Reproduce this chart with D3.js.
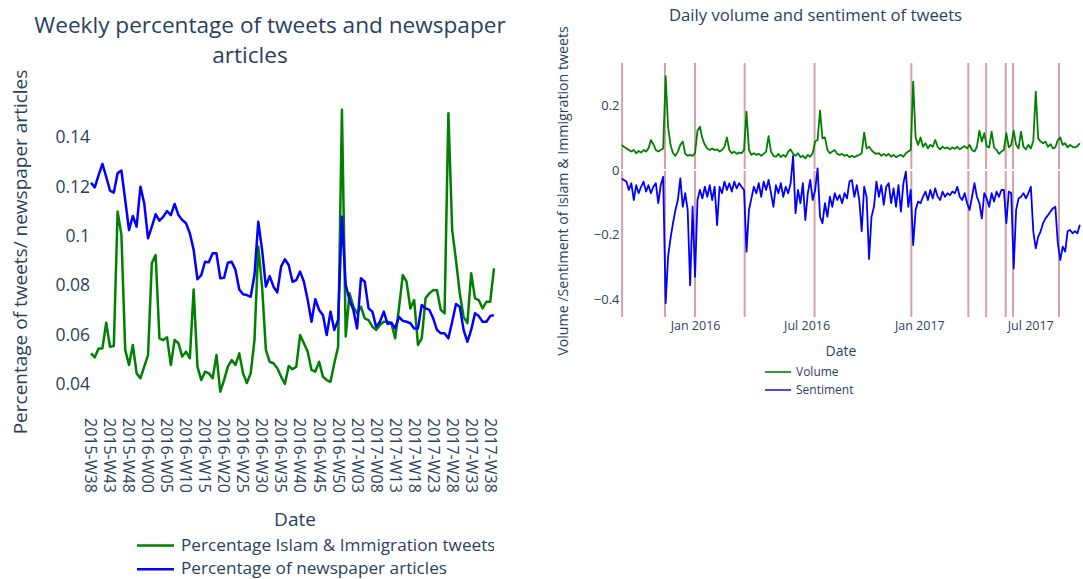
<!DOCTYPE html>
<html><head><meta charset="utf-8">
<script src="https://cdn.jsdelivr.net/npm/d3@7"></script>
<style>body{margin:0;background:#fff;} svg{font-family:"Open Sans",sans-serif;display:block;}</style>
</head><body>
<svg id="c" width="1083" height="579"></svg>
<script>
// ---------- LEFT CHART DATA ----------
function pad(n){return (n<10?"0":"")+n;}
const weekCats = [];
for(let w=38;w<=52;w++) weekCats.push("2015-W"+pad(w));
for(let w=0;w<=52;w++) weekCats.push("2016-W"+pad(w));
for(let w=1;w<=39;w++) weekCats.push("2017-W"+pad(w));
const weekTickLabels = weekCats.filter((c,i)=>i%5===0);
const leftYTicks = [0.04,0.06,0.08,0.1,0.12,0.14];

const tweetPct = [
0.0524,0.0508,0.0544,0.0544,0.0648,0.0551,0.0554,0.1098,0.1003,0.0538,
0.0477,0.0558,0.0443,0.0423,0.047,0.0517,0.0889,0.0922,0.0585,0.0578,
0.0589,0.0477,0.0578,0.0565,0.0511,0.0531,0.0504,0.0783,0.047,0.0416,
0.045,0.0443,0.0423,0.0517,0.0369,0.0416,0.047,0.0497,0.0477,0.0524,
0.0443,0.0404,0.0443,0.0578,0.0956,0.0794,0.0538,0.049,0.0484,0.0464,
0.043,0.040,0.0473,0.046,0.047,
0.0598,0.0565,0.0531,0.0457,0.045,0.049,0.043,0.0416,0.0409,0.0484,
0.0551,0.151,0.0592,0.0767,0.0713,0.0686,0.0713,0.0666,0.0659,0.0632,
0.0619,0.0639,0.0652,0.0652,0.0646,0.0585,0.0706,0.0841,0.0814,0.0706,
0.074,0.0558,0.0585,0.0747,0.0767,0.078,0.078,0.07,0.0686,0.1496,
0.1023,0.0902,0.0767,0.0672,0.0646,0.0848,0.0747,0.074,0.0706,0.0733,
0.0733,0.0868];
const newsPct = [
0.1215,0.1196,0.1246,0.1291,0.1239,0.1183,0.1175,0.1253,0.1264,0.1145,
0.1023,0.108,0.1037,0.1199,0.1132,0.099,0.1037,0.1087,0.1061,0.1077,
0.11,0.1084,0.1129,0.1084,0.1064,0.1051,0.101,0.0943,0.0824,0.0841,
0.0895,0.0893,0.0929,0.0929,0.0828,0.083,0.0891,0.0895,0.0862,0.0783,
0.0763,0.076,0.0753,0.0841,0.1057,0.0943,0.0794,0.0837,0.0794,0.0771,
0.0875,0.0905,0.0882,0.0814,0.0821,
0.0855,0.0814,0.074,0.0652,0.0743,0.07,0.0679,0.0598,0.0693,0.0619,
0.0659,0.1077,0.0801,0.074,0.07,0.0625,0.0828,0.0814,0.0706,0.0693,
0.0632,0.0652,0.0693,0.0643,0.0648,0.0625,0.0672,0.0656,0.0652,0.0646,
0.0625,0.0625,0.072,0.0706,0.07,0.0666,0.0619,0.0605,0.0605,0.0585,
0.0652,0.0724,0.0713,0.0619,0.0571,0.0619,0.0686,0.0675,0.0652,0.0652,
0.0675,0.0679];
const leftSeriesNames = ["Percentage Islam & Immigration tweets","Percentage of newspaper articles"];

// ---------- RIGHT CHART DATA ----------
const dailyStart = "2015-09-03";   // first day; one value every 4 days
const dailyStepDays = 4;
const volume = [
0.0775,0.072,0.067,0.062,0.057,0.062,0.052,0.059,0.054,0.062,
0.057,0.067,0.093,0.080,0.062,0.057,0.062,0.067,0.291,0.134,
0.078,0.052,0.044,0.057,0.078,0.088,0.050,0.044,0.047,0.044,
0.052,0.122,0.134,0.098,0.078,0.067,0.062,0.067,0.062,0.064,
0.057,0.062,0.072,0.101,0.062,0.052,0.057,0.050,0.054,0.052,
0.062,0.181,0.062,0.047,0.052,0.047,0.050,0.044,0.050,0.057,
0.105,0.057,0.044,0.041,0.050,0.040,0.047,0.041,0.057,0.064,
0.050,0.044,0.052,0.040,0.044,0.036,0.047,0.041,0.052,0.088,
0.093,0.184,0.098,0.101,0.062,0.052,0.057,0.062,0.050,0.047,
0.050,0.044,0.047,0.040,
0.044,0.040,0.044,0.047,0.052,0.116,
0.067,0.072,0.062,0.054,0.050,0.052,0.044,0.050,0.044,0.050,
0.041,0.047,0.040,0.044,0.047,0.041,0.052,0.057,0.062,0.274,
0.101,0.078,0.101,0.072,0.083,0.067,0.078,0.072,0.093,0.072,
0.064,0.072,0.067,0.070,0.064,0.070,0.066,0.072,0.064,0.070,
0.074,0.067,0.078,0.062,0.057,0.072,0.122,0.088,0.114,0.074,
0.070,0.119,0.070,0.062,0.050,0.057,0.062,0.114,0.070,0.078,
0.122,0.078,0.067,0.119,0.072,0.064,0.078,0.067,0.090,0.243,
0.098,0.088,0.083,0.088,0.072,0.080,0.067,0.070,0.093,0.101,
0.078,0.083,0.070,0.078,0.072,0.070,0.074,0.083];
const sentiment = [
-0.026,-0.031,-0.036,-0.062,-0.041,-0.093,-0.047,-0.072,-0.052,-0.036,
-0.067,-0.047,-0.072,-0.052,-0.041,-0.103,-0.047,-0.021,-0.413,-0.269,
-0.212,-0.165,-0.124,-0.093,-0.026,-0.114,-0.072,-0.124,-0.357,-0.114,
-0.331,-0.093,-0.062,-0.088,-0.052,-0.083,-0.047,-0.093,-0.052,-0.171,
-0.052,-0.072,-0.036,-0.062,-0.041,-0.067,-0.036,-0.057,-0.041,-0.052,
-0.062,-0.253,-0.124,-0.088,-0.052,-0.072,-0.041,-0.083,-0.036,-0.062,
-0.031,-0.072,-0.114,-0.047,-0.072,-0.041,-0.083,-0.052,-0.072,-0.041,
0.044,-0.134,-0.062,-0.103,-0.041,-0.155,-0.072,-0.031,-0.093,-0.062,
0.005,-0.145,-0.165,-0.103,-0.145,-0.083,-0.114,-0.072,-0.093,-0.078,
-0.103,-0.072,-0.088,-0.036,
-0.031,-0.083,-0.047,-0.093,-0.190,-0.052,
-0.083,-0.276,-0.145,-0.114,-0.036,-0.083,-0.047,-0.108,-0.052,-0.041,
-0.103,-0.057,-0.114,-0.047,-0.129,-0.041,-0.005,-0.114,-0.062,-0.233,
-0.124,-0.098,-0.103,-0.083,-0.067,-0.093,-0.062,-0.088,-0.057,-0.083,
-0.093,-0.067,-0.083,-0.072,-0.078,-0.067,-0.072,-0.052,-0.083,-0.093,
-0.072,-0.103,-0.124,-0.083,-0.041,-0.083,-0.103,-0.150,-0.072,-0.088,
-0.114,-0.072,-0.098,-0.067,-0.083,-0.062,-0.062,-0.165,-0.067,-0.072,
-0.305,-0.124,-0.088,-0.083,-0.072,-0.088,-0.072,-0.052,-0.190,-0.243,
-0.207,-0.190,-0.165,-0.150,-0.140,-0.129,-0.119,-0.114,-0.227,-0.279,
-0.238,-0.253,-0.190,-0.186,-0.196,-0.190,-0.196,-0.170];
const eventDates = ["2015-09-04","2015-11-13","2016-01-01","2016-03-22","2016-07-14",
  "2016-12-19","2017-03-22","2017-04-20","2017-05-22","2017-06-03","2017-08-17"];
const rightXTicks = ["2016-01-01","2016-07-01","2017-01-01","2017-07-01"];
const rightYTicks = [-0.4,-0.2,0,0.2];
const rightSeriesNames = ["Volume","Sentiment"];

// ---------- DRAW ----------
const TXT = "#2a3f5f", GREEN = "#008000", BLUE = "#0000ff";
const svg = d3.select("#c");

// LEFT
const xL = d3.scalePoint().domain(weekCats).range([91, 494]);
const yL = d3.scaleLinear().domain([0.04, 0.14]).range([384, 137]);
const gL = svg.append("g");

gL.append("text").attr("x",270).attr("y",33).attr("text-anchor","middle")
  .attr("font-size",22.6).attr("fill",TXT).text("Weekly percentage of tweets and newspaper");
gL.append("text").attr("x",250).attr("y",63).attr("text-anchor","middle")
  .attr("font-size",22.6).attr("fill",TXT).text("articles");

const yAxL = gL.append("g").attr("transform","translate(92,0)")
  .call(d3.axisLeft(yL).tickValues(leftYTicks).tickSize(0).tickPadding(2)
    .tickFormat(d=>String(+d.toFixed(2))));
yAxL.select(".domain").remove();
yAxL.selectAll("text").attr("font-size",17.5).attr("fill",TXT).attr("font-family","Open Sans");

gL.selectAll("text.xt").data(weekTickLabels).join("text").attr("class","xt")
  .attr("transform",d=>`translate(${xL(d)},418) rotate(90)`)
  .attr("dy","0.35em").attr("font-size",16).attr("fill",TXT).text(d=>d);

gL.append("text").attr("transform","translate(27,252) rotate(-90)").attr("text-anchor","middle")
  .attr("font-size",19).attr("fill",TXT).text("Percentage of tweets/ newspaper articles");
gL.append("text").attr("x",295).attr("y",526).attr("text-anchor","middle")
  .attr("font-size",19).attr("fill",TXT).text("Date");

const lineL = d3.line().x((d,i)=>xL(weekCats[i])).y(d=>yL(d));
gL.append("path").datum(tweetPct).attr("d",lineL).attr("fill","none")
  .attr("stroke",GREEN).attr("stroke-width",2.5).attr("stroke-linejoin","round");
gL.append("path").datum(newsPct).attr("d",lineL).attr("fill","none")
  .attr("stroke",BLUE).attr("stroke-width",2.5).attr("stroke-linejoin","round");

svg.append("clipPath").attr("id","legclip").append("rect").attr("x",0).attr("y",520).attr("width",494).attr("height",59);
const legL = gL.append("g").attr("clip-path","url(#legclip)");
[[GREEN,544.5],[BLUE,568.3]].forEach(([c,y],i)=>{
  legL.append("line").attr("x1",137).attr("x2",174).attr("y1",y+1).attr("y2",y+1)
    .attr("stroke",c).attr("stroke-width",2.5);
  legL.append("text").attr("x",181).attr("y",y).attr("dy","0.35em")
    .attr("font-size",17.2).attr("fill",TXT).text(leftSeriesNames[i]);
});

// RIGHT
const parse = d3.utcParse("%Y-%m-%d");
const t0 = parse(dailyStart);
const days = volume.map((v,k)=>d3.utcDay.offset(t0, k*dailyStepDays));
const xR = d3.scaleUtc().domain([parse("2015-09-03"), parse("2017-09-23")]).range([621.5, 1081.7]);
const yR = d3.scaleLinear().domain([-0.4, 0.2]).range([299, 105.5]);
const PT = 63, PB = 317, PL = 621.5, PR = 1083;
const gR = svg.append("g");

gR.append("text").attr("x",815.5).attr("y",21).attr("text-anchor","middle")
  .attr("font-size",16.7).attr("fill",TXT).text("Daily volume and sentiment of tweets");

gR.selectAll("line.ev").data(eventDates).join("line").attr("class","ev")
  .attr("x1",d=>xR(parse(d))).attr("x2",d=>xR(parse(d))).attr("y1",PT).attr("y2",PB)
  .attr("stroke","#d6a0a7").attr("stroke-width",2);
gR.append("line").attr("x1",PL).attr("x2",PR).attr("y1",yR(0)).attr("y2",yR(0))
  .attr("stroke","#fff").attr("stroke-width",2);

const yAxR = gR.append("g").attr("transform",`translate(${PL},0)`)
  .call(d3.axisLeft(yR).tickValues(rightYTicks).tickSize(0).tickPadding(2)
    .tickFormat(d=>d===0?"0":String(+d.toFixed(1)).replace("-","\u2212")));
yAxR.select(".domain").remove();
yAxR.selectAll("text").attr("font-size",13).attr("fill",TXT).attr("font-family","Open Sans");

const xAxR = gR.append("g").attr("transform",`translate(0,${PB})`)
  .call(d3.axisBottom(xR).tickValues(rightXTicks.map(parse)).tickSize(0).tickPadding(4)
    .tickFormat(d3.utcFormat("%b %Y")));
xAxR.select(".domain").remove();
xAxR.selectAll("text").attr("font-size",12.5).attr("fill",TXT).attr("font-family","Open Sans");

gR.append("text").attr("transform","translate(568,191) rotate(-90)").attr("text-anchor","middle")
  .attr("font-size",14.2).attr("fill",TXT).text("Volume /Sentiment of Islam & Immigration tweets");
gR.append("text").attr("x",841).attr("y",356).attr("text-anchor","middle")
  .attr("font-size",14).attr("fill",TXT).text("Date");

svg.append("clipPath").attr("id","rclip").append("rect").attr("x",PL).attr("y",PT).attr("width",PR-PL).attr("height",PB-PT);
const lineR = d3.line().x((d,i)=>xR(days[i])).y(d=>yR(d));
const plotR = gR.append("g").attr("clip-path","url(#rclip)");
plotR.append("path").datum(volume).attr("d",lineR).attr("fill","none")
  .attr("stroke",GREEN).attr("stroke-width",1.8).attr("stroke-linejoin","round");
plotR.append("path").datum(sentiment).attr("d",lineR).attr("fill","none")
  .attr("stroke",BLUE).attr("stroke-width",1.8).attr("stroke-linejoin","round");

[["#2ca02c",372],["#4848ff",390]].forEach(([c,y],i)=>{
  gR.append("line").attr("x1",765).attr("x2",791).attr("y1",y).attr("y2",y)
    .attr("stroke",c).attr("stroke-width",2);
  gR.append("text").attr("x",796).attr("y",y).attr("dy","0.35em")
    .attr("font-size",12).attr("fill",TXT).text(rightSeriesNames[i]);
});
</script>
</body></html>
